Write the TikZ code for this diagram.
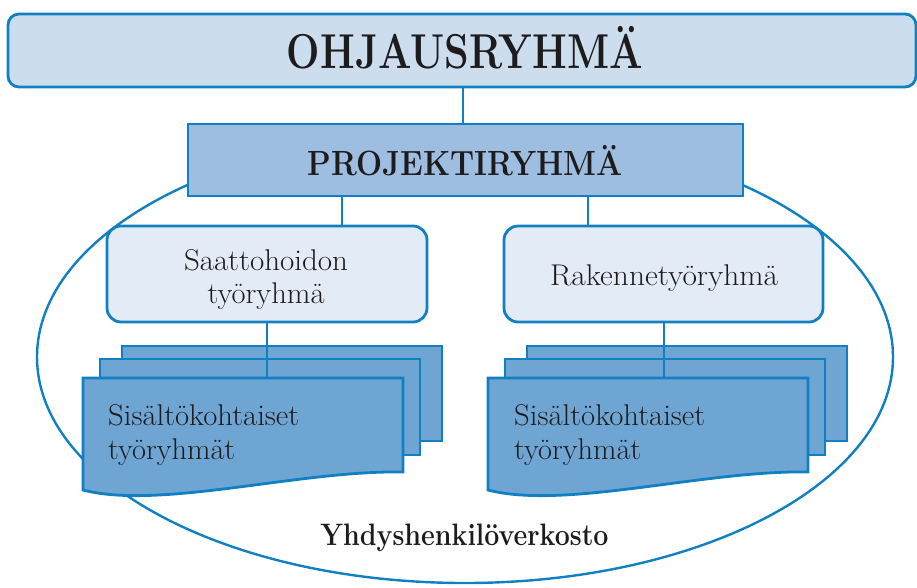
\documentclass[tikz,border=0pt]{standalone}
\usepackage{graphicx}
\definecolor{bline}{RGB}{16,128,194}
\definecolor{ohfill}{RGB}{204,221,238}
\definecolor{prfill}{RGB}{157,190,224}
\definecolor{subfill}{RGB}{227,235,246}
\definecolor{docfill}{RGB}{110,165,210}
\definecolor{txt}{RGB}{30,27,28}
\newcommand{\hx}[2]{\resizebox{#1}{\height}{#2}}
\begin{document}
\begin{tikzpicture}[x=1pt,y=-1pt,
  conn/.style={draw=bline, line width=2.2pt},
  docshape/.style={draw=bline, fill=docfill, line width=2.8pt, line join=miter},
  boxbase/.style={draw=bline, line width=2.8pt, inner sep=0pt},
  lbl/.style={text=txt, inner sep=0pt, font=\fontsize{30}{34}\selectfont},
  bigt/.style={text=txt, inner sep=0pt, font=\fontsize{49}{52}\selectfont\bfseries},
  midt/.style={text=txt, inner sep=0pt, font=\fontsize{35}{38}\selectfont\bfseries},
  nett/.style={text=txt, inner sep=0pt, font=\fontsize{31}{34}\selectfont\bfseries}]
\useasboundingbox (0,0) rectangle (917,587);
% network ellipse
\draw[bline, line width=2.4pt] (465,357) ellipse [x radius=428, y radius=226];
% boxes
\node[boxbase, fill=ohfill, rounded corners=11pt, minimum width=908pt, minimum height=73pt] (ohj) at (462,50.5) {};
\node[boxbase, fill=prfill, minimum width=555pt, minimum height=72pt] (proj) at (465.5,160) {};
\node[boxbase, fill=subfill, rounded corners=14pt, minimum width=320pt, minimum height=96pt] (sub1) at (267,274) {};
\node[boxbase, fill=subfill, rounded corners=14pt, minimum width=319pt, minimum height=96pt] (sub2) at (663.5,274) {};
% connector anchors
\coordinate (c0) at (463,105);
\coordinate (c1) at (342,210);
\coordinate (c2) at (588,210);
\coordinate (dl) at (267,378);
\coordinate (dr) at (664,378);
\draw[conn] (ohj.south -| c0) -- (proj.north -| c0);
\draw[conn] (proj.south -| c1) -- (sub1.north -| c1);
\draw[conn] (proj.south -| c2) -- (sub2.north -| c2);
% document stacks
\foreach \dx/\cc/\bb in {0/dl/sub1, 405/dr/sub2}{
  \begin{scope}[xshift=\dx pt]
    \draw[docshape] (122,346) rectangle (442,441);
    \draw[docshape] (100,359) rectangle (420,455);
  \end{scope}
  \draw[conn] (\bb.south -| \cc) -- (\cc);
  \begin{scope}[xshift=\dx pt]
    \draw[docshape] (83,378) -- (403,378) -- (403,472)
      .. controls (300,470) and (160,510) .. (83,490) -- cycle;
  \end{scope}
}
% texts
\node[bigt, anchor=base] (tohj) at (465,68) {\hx{356pt}{OHJAUSRYHMÄ}};
\node[midt, anchor=base] (tproj) at (465.5,175) {\hx{315pt}{PROJEKTIRYHMÄ}};
\node[lbl, anchor=base] (ts1a) at (266,270) {\hx{164pt}{Saattohoidon}};
\node[lbl, anchor=base] (ts1b) at (266,303) {\hx{117pt}{työryhmä}};
\node[lbl, anchor=base] (ts2) at (664,285) {\hx{228pt}{Rakennetyöryhmä}};
\node[lbl, anchor=base west] (td1a) at (108,425) {\hx{191pt}{Sisältökohtaiset}};
\node[lbl, anchor=base west] (td1b) at (108,459) {\hx{127pt}{työryhmät}};
\node[lbl, anchor=base west] (td2a) at (514,425) {\hx{191pt}{Sisältökohtaiset}};
\node[lbl, anchor=base west] (td2b) at (514,459) {\hx{127pt}{työryhmät}};
\node[nett, anchor=base] (tnet) at (464.5,545) {\hx{288pt}{Yhdyshenkilöverkosto}};
\end{tikzpicture}
\end{document}
